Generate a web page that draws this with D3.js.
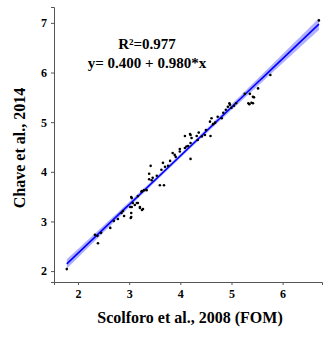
<!DOCTYPE html>
<html lang="en">
<head>
<meta charset="UTF-8">
<title>Chave vs Scolforo</title>
<script src="https://d3js.org/d3.v7.min.js"></script>
<style>
  body { margin: 0; background: #fff; }
  text { font-family: "Liberation Serif", "DejaVu Serif", serif; font-weight: bold; }
</style>
</head>
<body>
<div id="chart"></div>
<script>
var xs = [1.78, 2.33, 2.38, 2.45, 2.39, 2.63, 2.70, 2.78, 2.85, 2.88, 2.90, 3.04, 3.04, 3.05, 3.11, 3.04,
          3.15, 3.21, 3.25, 3.17, 3.25, 3.29, 3.03, 3.02, 3.07, 3.17, 3.21, 3.27, 3.05, 3.24, 3.34, 3.39,
          3.44, 3.46, 3.54, 3.39, 3.42, 3.60, 3.68, 3.63, 3.66, 3.70, 3.76, 3.80, 3.85, 3.89, 3.99, 4.09,
          4.12, 4.15, 4.20, 4.09, 4.19, 4.22, 4.32, 4.36, 3.91, 3.99, 4.20, 4.20, 4.34, 4.42, 4.48, 4.50,
          4.59, 4.58, 4.61, 4.68, 4.64, 4.73, 4.81, 4.84, 4.89, 4.93, 4.97, 5.00, 4.96, 5.05, 5.09, 5.26,
          5.33, 5.39, 5.42, 5.36, 6.71, 5.76, 5.52, 5.44, 5.35, 5.42];
var ys = [2.04, 2.73, 2.71, 2.77, 2.56, 2.87, 3.01, 3.05, 3.17, 3.21, 3.11, 3.09, 3.17, 3.29, 3.33, 3.49,
          3.37, 3.27, 3.23, 3.51, 3.61, 3.63, 3.07, 3.29, 3.37, 3.37, 3.29, 3.25, 3.47, 3.60, 3.63, 3.85,
          3.83, 3.88, 3.92, 3.96, 4.12, 3.73, 3.73, 4.04, 4.18, 4.10, 4.12, 4.22, 4.38, 4.34, 4.41, 4.48,
          4.51, 4.52, 4.26, 4.72, 4.76, 4.68, 4.72, 4.79, 4.30, 4.46, 4.58, 4.74, 4.64, 4.71, 4.74, 4.84,
          4.72, 5.01, 5.08, 4.99, 4.96, 5.11, 5.08, 5.19, 5.25, 5.31, 5.35, 5.29, 5.38, 5.33, 5.38, 5.57,
          5.38, 5.39, 5.51, 5.57, 7.05, 5.95, 5.68, 5.50, 5.36, 5.38];
var xTicks = [2, 3, 4, 5, 6];
var yTicks = [2, 3, 4, 5, 6, 7];
var intercept = 0.400, slope = 0.980;

var W = 326, H = 338;
var svg = d3.select("#chart").append("svg")
    .attr("width", W).attr("height", H);

var x = d3.scaleLinear().domain([1.53, 6.77]).range([54, 322]);
var y = d3.scaleLinear().domain([1.78, 7.32]).range([282, 7]);

// confidence band of the fit (standard error of the mean response)
var n = xs.length;
var mx = d3.mean(xs);
var sxx = d3.sum(xs, function(v) { return (v - mx) * (v - mx); });
var rss = d3.sum(xs, function(v, i) { var r = ys[i] - (intercept + slope * v); return r * r; });
var s = Math.sqrt(rss / (n - 2));
var xmin = d3.min(xs), xmax = d3.max(xs);
var grid = d3.range(0, 81).map(function(i) { return xmin + (xmax - xmin) * i / 80; });
var band = grid.map(function(v) {
  var fit = intercept + slope * v;
  var se = 2.3 * s * Math.sqrt(1 / n + (v - mx) * (v - mx) / sxx);
  return { x: v, lo: fit - se, hi: fit + se, fit: fit };
});

svg.append("path")
  .datum(band)
  .attr("fill", "#6f6fff")
  .attr("opacity", 0.55)
  .attr("d", d3.area()
    .x(function(d) { return x(d.x); })
    .y0(function(d) { return y(d.lo); })
    .y1(function(d) { return y(d.hi); }));

svg.append("path")
  .datum(band)
  .attr("fill", "none")
  .attr("stroke", "#0000ff")
  .attr("stroke-width", 1.6)
  .attr("d", d3.line()
    .x(function(d) { return x(d.x); })
    .y(function(d) { return y(d.fit); }));

svg.selectAll("circle.pt")
  .data(xs)
  .enter().append("circle")
  .attr("class", "pt")
  .attr("cx", function(d) { return x(d); })
  .attr("cy", function(d, i) { return y(ys[i]); })
  .attr("r", 1.3)
  .attr("fill", "#000");

// axes
var gx = svg.append("g")
  .attr("transform", "translate(0,282)")
  .call(d3.axisBottom(x).tickValues(xTicks).tickSize(3).tickPadding(4).tickFormat(d3.format("d")));
var gy = svg.append("g")
  .attr("transform", "translate(54,0)")
  .call(d3.axisLeft(y).tickValues(yTicks).tickSize(3).tickPadding(4).tickFormat(d3.format("d")));
[gx, gy].forEach(function(g) {
  g.select(".domain").attr("stroke", "#555").attr("stroke-width", 1);
  g.selectAll(".tick line").attr("stroke", "#555");
  g.selectAll(".tick text")
    .attr("fill", "#000")
    .style("font-family", "'Liberation Serif', serif")
    .style("font-weight", "bold")
    .style("font-size", "12px");
});

// titles
svg.append("text")
  .attr("x", 190).attr("y", 323)
  .attr("text-anchor", "middle")
  .style("font-size", "16px")
  .text("Scolforo et al., 2008 (FOM)");
svg.append("text")
  .attr("transform", "translate(25,148) rotate(-90)")
  .attr("text-anchor", "middle")
  .style("font-size", "16px")
  .text("Chave et al., 2014");

// fit annotation
svg.append("text")
  .attr("x", 147).attr("y", 49)
  .attr("text-anchor", "middle")
  .style("font-size", "15px")
  .text("R\u00b2=0.977");
svg.append("text")
  .attr("x", 147).attr("y", 68)
  .attr("text-anchor", "middle")
  .style("font-size", "15px")
  .text("y= 0.400 + 0.980*x");
</script>
</body>
</html>
